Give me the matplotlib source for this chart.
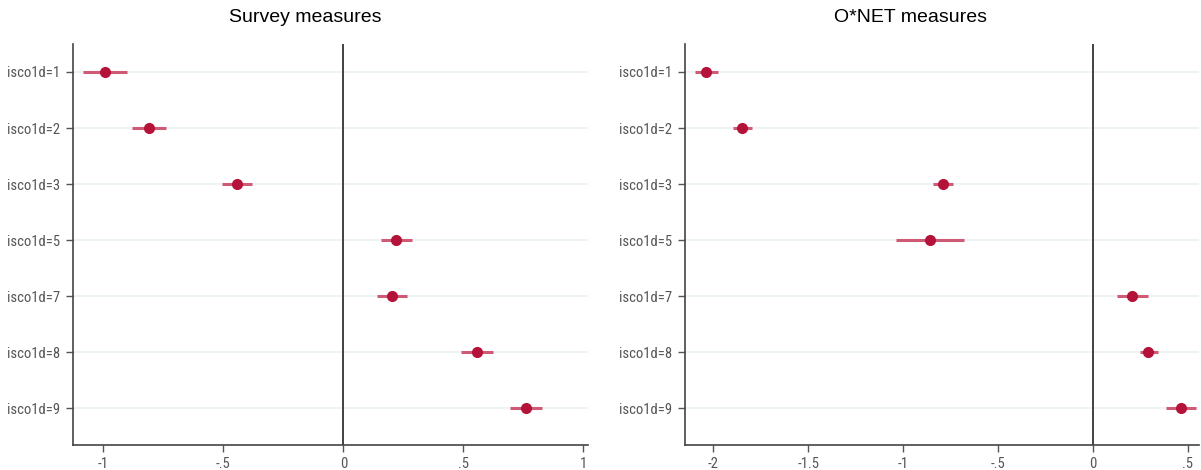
import numpy as np
import matplotlib
matplotlib.use("Agg")
import matplotlib.pyplot as plt

# Coefficients with confidence intervals
labels = ["isco1d=1", "isco1d=2", "isco1d=3", "isco1d=5", "isco1d=7", "isco1d=8", "isco1d=9"]

survey_coef = [-0.995, -0.812, -0.444, 0.219, 0.202, 0.558, 0.760]
survey_lo = [-1.085, -0.883, -0.505, 0.155, 0.141, 0.488, 0.694]
survey_hi = [-0.900, -0.741, -0.381, 0.287, 0.266, 0.624, 0.827]

onet_coef = [-2.038, -1.848, -0.791, -0.859, 0.207, 0.293, 0.463]
onet_lo = [-2.099, -1.896, -0.841, -1.038, 0.129, 0.246, 0.385]
onet_hi = [-1.975, -1.799, -0.738, -0.678, 0.289, 0.346, 0.543]

survey_ticks = [-1, -0.5, 0, 0.5, 1]
survey_ticklabels = ["-1", "-.5", "0", ".5", "1"]
onet_ticks = [-2, -1.5, -1, -0.5, 0, 0.5]
onet_ticklabels = ["-2", "-1.5", "-1", "-.5", "0", ".5"]

POINT = "#b5123a"
CI = "#cf5a76"
GRID = "#eef3f3"
TICKFONT = dict(family=["Roboto Condensed", "DejaVu Sans"], stretch="condensed",
                fontsize=10.5, color="#555555")


def coefplot(ax, coef, lo, hi, ticks, ticklabels, xlim):
    y = np.arange(1, len(labels) + 1)
    for yy in y:
        ax.axhline(yy, color=GRID, linewidth=1.5, zorder=0)
    ax.axvline(0, color="#333333", linewidth=1.3, zorder=1)
    ax.hlines(y, lo, hi, color=CI, linewidth=2.2, zorder=2)
    ax.plot(coef, y, "o", color=POINT, markersize=7, zorder=3)

    ax.set_xlim(*xlim)
    ax.set_ylim(7.66, 0.5)
    ax.set_yticks(y)
    ax.set_yticklabels(labels, **TICKFONT)
    ax.set_xticks(ticks)
    ax.set_xticklabels(ticklabels, **TICKFONT)
    ax.tick_params(axis="both", length=5, width=1, color="#555555", pad=4)

    for side in ("top", "right"):
        ax.spines[side].set_visible(False)
    for side in ("left", "bottom"):
        ax.spines[side].set_color("#444444")
        ax.spines[side].set_linewidth(1.2)


fig = plt.figure(figsize=(12.01, 4.70), dpi=100)
ax1 = fig.add_axes([0.0608, 0.0532, 0.4288, 0.8532])
ax2 = fig.add_axes([0.5700, 0.0532, 0.4284, 0.8532])

coefplot(ax1, survey_coef, survey_lo, survey_hi,
         survey_ticks, survey_ticklabels, (-1.127, 1.019))
coefplot(ax2, onet_coef, onet_lo, onet_hi,
         onet_ticks, onet_ticklabels, (-2.152, 0.56))

fig.text(305 / 1201, 1 - 17 / 470, "Survey measures", fontsize=14,
         family="Liberation Sans", ha="center", va="center")
fig.text(911 / 1201, 1 - 17 / 470, "O*NET measures", fontsize=14,
         family="Liberation Sans", ha="center", va="center")

fig.savefig("out.png", dpi=100)
